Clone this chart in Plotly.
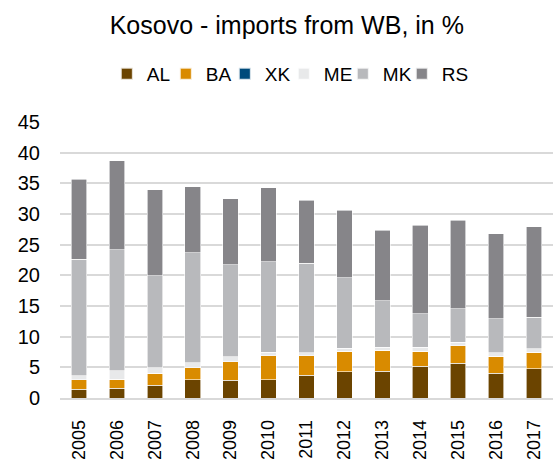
import plotly.graph_objects as go

years = ["2005", "2006", "2007", "2008", "2009", "2010", "2011",
         "2012", "2013", "2014", "2015", "2016", "2017"]
AL = [1.45, 1.57, 2.05, 3.0, 2.87, 3.0, 3.7, 4.3, 4.4, 5.15, 5.65, 4.0, 4.8]
BA = [1.55, 1.46, 1.95, 1.95, 3.05, 3.9, 3.2, 3.3, 3.35, 2.45, 2.85, 2.8, 2.7]
XK = [0, 0, 0, 0, 0, 0, 0, 0, 0, 0, 0, 0, 0]
ME = [0.6, 1.42, 0.93, 0.8, 0.8, 0.6, 0.5, 0.55, 0.55, 0.65, 0.55, 0.6, 0.55]
MK = [19.0, 19.7, 15.0, 17.9, 15.0, 14.7, 14.6, 11.45, 7.55, 5.45, 5.5, 5.5, 5.1]
RS = [13.1, 14.5, 14.0, 10.8, 10.8, 12.05, 10.25, 11.0, 11.5, 14.5, 14.45, 13.9, 14.8]

series = [("AL", AL, "#6B4400"), ("BA", BA, "#D98B00"), ("XK", XK, "#004B7B"),
          ("ME", ME, "#E8E9EA"), ("MK", MK, "#B8B9BC"), ("RS", RS, "#868589")]

fig = go.Figure()
for name, vals, col in series:
    fig.add_trace(go.Bar(x=years, y=vals, name=name, marker_color=col,
                         marker_line=dict(color="rgba(255,255,255,0.8)", width=0.75)))
# invisible spacer entry so the last legend label is not clipped
fig.add_trace(go.Bar(x=years[:1], y=[0], name="", marker_color="rgba(0,0,0,0)",
                     marker_line_width=0, hoverinfo="skip"))

font = "Liberation Sans, Arial, sans-serif"
fig.update_layout(
    barmode="stack",
    bargap=0.59,
    width=558, height=461,
    margin=dict(l=60, r=5, t=122, b=63),
    paper_bgcolor="white", plot_bgcolor="white",
    font=dict(family=font, size=18, color="#000000"),
    title=dict(text="Kosovo - imports from WB, in %", x=0.514, xref="container",
               xanchor="center", y=1 - 25 / 461, yref="container", yanchor="middle",
               font=dict(size=25, color="#000000")),
    legend=dict(orientation="h", x=0.095, xanchor="left", xref="paper",
                y=1 - 74 / 461, yref="container", yanchor="middle",
                font=dict(size=19), traceorder="normal", itemsizing="constant",
                entrywidth=14, entrywidthmode="pixels", itemwidth=30,
                bgcolor="rgba(0,0,0,0)"),
    showlegend=True,
)
fig.update_yaxes(range=[0, 45], dtick=5, showgrid=True, gridcolor="#D9D9D9", gridwidth=1.5,
                 zeroline=False, showline=False, ticks="", ticklabelstandoff=19,
                 tickfont=dict(size=20), automargin=False)
fig.update_xaxes(tickangle=-90, showline=True, linecolor="#D9D9D9", linewidth=1.5,
                 ticks="", ticklabelstandoff=13, tickfont=dict(size=18), automargin=False)

fig.write_html("out.html", config={"displayModeBar": False},
               post_script="document.body.style.margin='0';")
